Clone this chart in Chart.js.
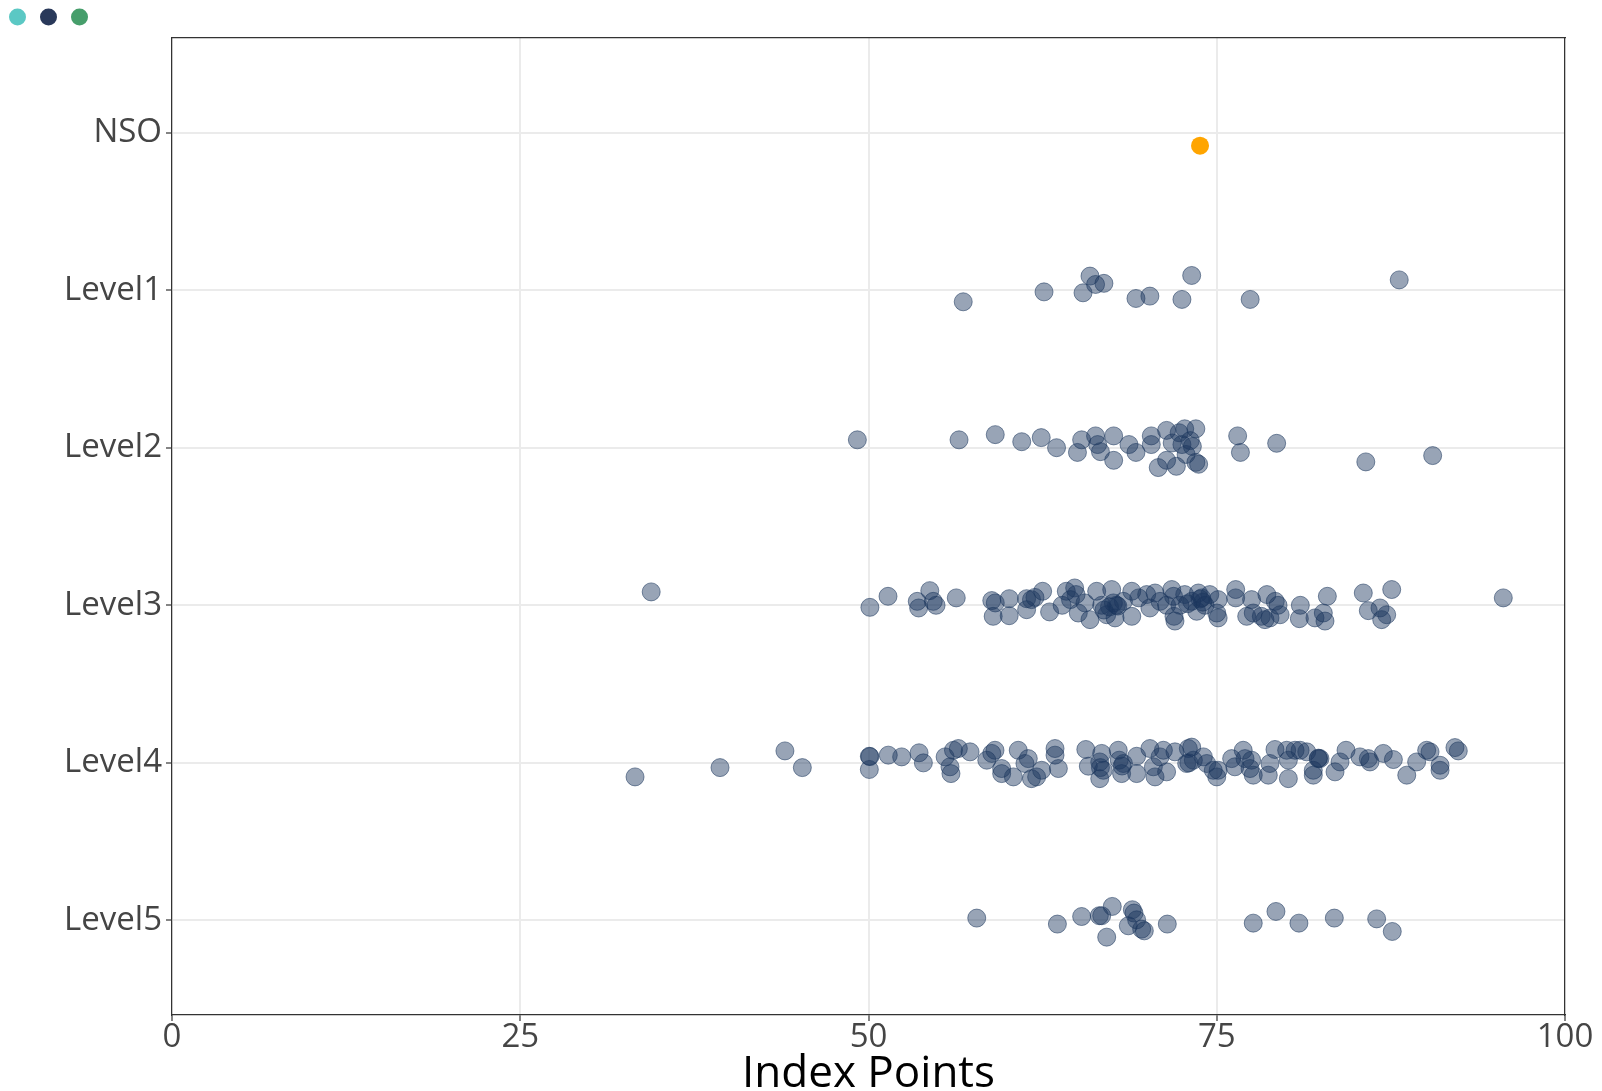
<!DOCTYPE html>
<html>
<head>
<meta charset="utf-8">
<title>Index Points by Level</title>
<script src="https://cdn.jsdelivr.net/npm/chart.js@4.4.1/dist/chart.umd.min.js"></script>
<style>
  html, body { margin: 0; padding: 0; background: #ffffff; }
  #wrap { width: 1602px; height: 1091px; }
</style>
</head>
<body>
<div id="wrap"><canvas id="chart" width="1602" height="1091"></canvas></div>
<script>
// Row labels, top to bottom
const categories = ['NSO', 'Level1', 'Level2', 'Level3', 'Level4', 'Level5'];
const xTicks = [0, 25, 50, 75, 100];
const legendColours = ['#5BC8C4', '#29395A', '#469E6B'];

// Scores per row, with the vertical jitter of each point (in row units)
const nsoScores = [73.8];
const nsoOffset = [0.083];

const level1Scores = [56.8, 62.6, 65.9, 65.4, 66.3, 66.9, 69.2, 70.2, 72.5, 73.2, 77.4, 88.1];
const level1Offset = [0.074, 0.011, -0.089, 0.017, -0.036, -0.043, 0.053, 0.038, 0.059, -0.093, 0.059, -0.065];

const level2Scores = [49.2, 56.5, 59.1, 61.0, 62.4, 63.5, 65.0, 65.3, 66.3, 66.45, 66.65, 67.6, 67.6, 68.7, 69.2,
  70.3, 70.3, 70.8, 71.4, 71.4, 71.8, 72.1, 72.3, 72.5, 72.7, 72.8, 73.1, 73.25, 73.5, 73.5, 73.7,
  76.5, 76.7, 79.3, 85.7, 90.5];
const level2Offset = [-0.05, -0.05, -0.083, -0.038, -0.064, 0, 0.03, -0.05, -0.075, -0.02, 0.025, -0.075, 0.08, -0.02, 0.03,
  -0.075, -0.02, 0.126, -0.11, 0.08, -0.03, 0.118, -0.095, -0.02, -0.12, 0.043, -0.045, -0.008, -0.12, 0.093, 0.105,
  -0.075, 0.03, -0.028, 0.09, 0.05];

const level3Scores = [34.4, 50.1, 51.4, 53.5, 53.6, 54.4, 54.65, 54.85, 56.3, 58.85, 59.1, 58.95, 60.1, 60.1, 61.35,
  61.35, 61.7, 61.95, 62.5, 63.0, 63.9, 64.2, 64.5,
  64.8, 64.9, 65.06, 65.54, 65.9, 66.38, 66.74, 67.1, 67.46, 67.58, 67.8, 67.7, 68.3, 68.9, 68.9, 69.4, 69.97,
  70.2, 70.57, 70.93, 71.4, 71.77, 71.9, 71.93, 72.0, 72.36, 72.7, 73.2, 73.56, 73.68, 73.92, 74.16, 74.5,
  75.0, 75.1, 75.1, 76.36, 76.36, 77.15, 77.5, 77.62, 78.2, 78.46, 78.6, 78.82, 79.2, 79.4, 79.55, 81.0, 80.93,
  82.05, 82.65, 82.77, 82.94, 85.52, 85.88, 86.72, 86.84, 87.2, 87.56, 95.57,
  67.3, 67.9, 73.8, 74.0, 66.9, 72.9];
const level3Offset = [-0.085, 0.013, -0.057, -0.025, 0.017, -0.093, -0.025, 0, -0.047, -0.03, -0.015, 0.07, -0.042, 0.066, -0.042,
  0.028, -0.036, -0.05, -0.089, 0.042, 0, -0.089, -0.036,
  -0.11, -0.068, 0.049, -0.015, 0.091, -0.089, 0, 0.06, -0.1, -0.015, 0, 0.08, -0.025, -0.089, 0.07, -0.047, -0.068,
  0.017, -0.078, -0.025, 0, -0.1, -0.057, 0.07, 0.1, 0, -0.068, -0.025, 0.038, -0.078, -0.047, 0, -0.068,
  0.049, -0.036, 0.08, -0.1, -0.047, 0.07, -0.036, 0.049, 0.07, 0.091, -0.068, 0.08, -0.025, 0, 0.06, 0, 0.085,
  0.08, 0.049, 0.1, -0.057, -0.078, 0.034, 0.017, 0.091, 0.06, -0.1, -0.047,
  0.01, 0.005, -0.04, -0.02, 0.03, -0.01];

const level4Scores = [33.24, 39.34, 44.0, 45.25, 50.06, 50.06, 50.1, 51.42, 52.38, 53.63, 53.94, 55.5, 55.85, 55.92, 56.1,
  56.45, 57.29, 58.49, 58.85, 59.08, 59.56, 59.56, 60.4, 60.75, 61.23, 61.47, 61.7, 62.07, 62.43, 63.39, 63.39, 63.63,
  65.6, 65.78, 66.6, 66.6, 66.74, 66.86, 67.93, 68.0, 68.17, 68.3, 69.25, 69.25, 70.2, 70.45, 70.57, 70.93, 71.17,
  71.4, 72.0, 72.84, 72.96, 73.2, 73.32, 74.04, 74.28, 74.75, 75.0, 75.1, 76.07, 76.3, 76.9, 77.03, 77.39, 77.5,
  77.62, 78.7, 78.82, 79.18, 80.02, 80.14, 80.14, 80.62, 80.98, 81.46, 81.93, 81.93, 82.29, 82.41, 83.49, 83.85,
  84.28, 85.28, 85.88, 86.0, 86.96, 87.68, 88.64, 89.35, 90.07, 90.31, 91.03, 91.03, 92.1, 92.34,
  66.65, 68.2, 73.0, 82.3];
const level4Offset = [0.089, 0.03, -0.076, 0.03, -0.042, 0.042, -0.04, -0.049, -0.038, -0.064, 0, -0.038, 0.025, 0.068, -0.08,
  -0.091, -0.07, -0.017, -0.06, -0.08, 0.036, 0.068, 0.089, -0.08, 0.004, -0.027, 0.1, 0.089, 0.047, -0.091, -0.049, 0.036,
  -0.085, 0.021, -0.006, 0.1, -0.06, 0.047, -0.08, -0.017, 0.068, 0.004, -0.042, 0.068, -0.091, 0.025, 0.089, -0.038, -0.08,
  0.057, -0.07, 0.004, -0.091, -0.1, -0.017, -0.038, 0.004, 0.047, 0.089, 0.047, -0.027, 0.025, -0.08, -0.027, 0.036, -0.017,
  0.078, 0.078, 0.004, -0.085, -0.08, -0.017, 0.1, -0.08, -0.08, -0.07, 0.047, 0.078, -0.027, -0.027, 0.057, -0.006,
  -0.08, -0.038, -0.027, -0.006, -0.06, -0.021, 0.078, -0.006, -0.08, -0.07, 0.015, 0.047, -0.097, -0.076,
  0.03, 0.02, 0.0, -0.03];

const level5Scores = [57.77, 63.56, 65.3, 66.57, 66.74, 67.1, 67.5, 68.65, 68.94, 69.06, 69.25, 69.61, 69.8, 71.45,
  77.62, 79.25, 80.9, 83.44, 86.48, 87.6];
const level5Offset = [-0.015, 0.023, -0.025, -0.03, -0.03, 0.106, -0.089, 0.034, -0.068, -0.047, -0.004, 0.055, 0.066, 0.023,
  0.017, -0.057, 0.017, -0.015, -0.01, 0.07];

function rowPoints(row, scores, offsets) {
  return scores.map((s, i) => ({ x: s, y: row + offsets[i] }));
}

const levelPoints = [].concat(
  rowPoints(1, level1Scores, level1Offset),
  rowPoints(2, level2Scores, level2Offset),
  rowPoints(3, level3Scores, level3Offset),
  rowPoints(4, level4Scores, level4Offset),
  rowPoints(5, level5Scores, level5Offset)
);
const nsoPoints = rowPoints(0, nsoScores, nsoOffset);

const AXIS_DARK = '#333333';
const GRID_LIGHT = '#EBEBEB';
const LABEL_GREY = '#454545';

new Chart(document.getElementById('chart'), {
  type: 'scatter',
  data: {
    datasets: [
      {
        label: 'Levels',
        data: levelPoints,
        backgroundColor: 'rgba(27, 54, 93, 0.45)',
        borderColor: 'rgba(27, 54, 93, 0.55)',
        borderWidth: 1,
        pointRadius: 9,
        pointHoverRadius: 9
      },
      {
        label: 'NSO',
        data: nsoPoints,
        backgroundColor: '#FFA500',
        borderColor: '#FFA500',
        borderWidth: 0,
        pointRadius: 9,
        pointHoverRadius: 9
      }
    ]
  },
  options: {
    responsive: false,
    animation: false,
    events: [],
    layout: { padding: { left: 6, top: 3, right: 37, bottom: 0 } },
    plugins: {
      tooltip: { enabled: false },
      legend: {
        display: true,
        position: 'top',
        align: 'start',
        labels: {
          usePointStyle: true,
          pointStyle: 'circle',
          boxWidth: 12,
          boxHeight: 12,
          pointStyleWidth: 17,
          padding: 3,
          font: { size: 22 },
          generateLabels: () => legendColours.map((c, i) => ({
            text: '',
            fillStyle: c,
            strokeStyle: c,
            lineWidth: 0,
            pointStyle: 'circle',
            hidden: false,
            datasetIndex: 0,
            index: i
          }))
        }
      }
    },
    scales: {
      x: {
        type: 'linear',
        position: 'bottom',
        min: 0,
        max: 100,
        afterBuildTicks: s => { s.ticks = xTicks.map(v => ({ value: v })); },
        afterFit: s => { s.height = 76; },
        ticks: {
          font: { family: 'Open Sans', size: 33, weight: '500' },
          color: LABEL_GREY,
          padding: -3,
          maxRotation: 0
        },
        grid: { color: GRID_LIGHT, lineWidth: 2, tickLength: 6, tickColor: AXIS_DARK, tickWidth: 1.2 },
        border: { display: true, color: AXIS_DARK, width: 1.2 },
        title: {
          display: true,
          text: 'Index Points',
          color: '#000000',
          font: { family: 'Open Sans', size: 44, weight: '500' },
          padding: { top: 0, bottom: -10 }
        }
      },
      y: {
        type: 'linear',
        position: 'left',
        reverse: true,
        min: -0.6,
        max: 5.6,
        afterBuildTicks: s => { s.ticks = categories.map((c, i) => ({ value: i })); },
        afterFit: s => { s.width = 166; },
        ticks: {
          callback: v => categories[v],
          font: { family: 'Open Sans', size: 33, weight: '500' },
          color: LABEL_GREY,
          padding: 4
        },
        grid: { color: GRID_LIGHT, lineWidth: 2, tickLength: 6, tickColor: AXIS_DARK, tickWidth: 1.2 },
        border: { display: true, color: AXIS_DARK, width: 1.2 }
      },
      xTop: {
        type: 'linear',
        position: 'top',
        min: 0,
        max: 100,
        afterFit: s => { s.height = 0; },
        ticks: { display: false },
        grid: { display: false, drawTicks: false },
        border: { display: true, color: AXIS_DARK, width: 1.2 }
      },
      yRight: {
        type: 'linear',
        position: 'right',
        min: 0,
        max: 1,
        afterFit: s => { s.width = 0; },
        ticks: { display: false },
        grid: { display: false, drawTicks: false },
        border: { display: true, color: AXIS_DARK, width: 1.2 }
      }
    }
  }
});
</script>
</body>
</html>
